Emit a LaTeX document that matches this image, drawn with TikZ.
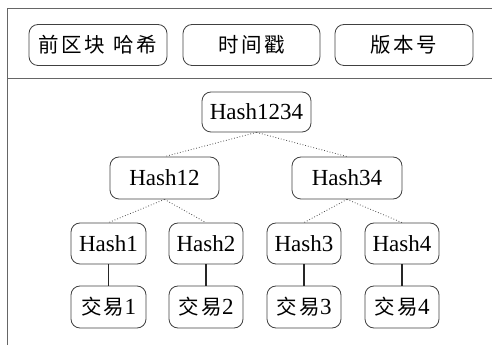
\documentclass[tikz,border=0pt]{standalone}
\usepackage{fontspec}
\setmainfont{Liberation Serif}
\newfontfamily\cjk{Noto Sans CJK SC}[Scale=1.0]
\begin{document}
\begin{tikzpicture}[x=1pt,y=1pt,
  box/.style={draw=black!75, line width=0.8pt, rounded corners=9pt, inner sep=0pt,
    font=\fontsize{23}{25}\selectfont},
  frame/.style={draw=black!60, line width=1pt},
  dotlink/.style={draw=black!70, dotted, line width=0.8pt},
  solidlink/.style={draw=black!85, line width=1.3pt}]
\useasboundingbox (0,0) rectangle (492,345);
% frame lines
\coordinate (ftl) at (7.5,336);
\coordinate (fbl) at (7.5,0);
\coordinate (ftr) at (492,336);
\coordinate (fml) at (7.5,266);
\coordinate (fmr) at (492,266);
\draw[frame] (fbl) -- (ftl) -- (ftr);
\draw[frame] (fml) -- (fmr);
% header boxes
\node[box, minimum width=138pt, minimum height=41pt] (prev) at (98,300)
  {\cjk\fontsize{20.5}{22}\selectfont 前\hspace{2.5pt}区\hspace{2.5pt}块\hspace{9pt}哈\hspace{2.5pt}希};
\node[box, minimum width=137pt, minimum height=41pt] (time) at (251.5,300)
  {\cjk\fontsize{20.5}{22}\selectfont 时\hspace{2.5pt}间\hspace{2.5pt}戳};
\node[box, minimum width=138pt, minimum height=41pt] (ver) at (404,300)
  {\cjk\fontsize{20.5}{22}\selectfont 版\hspace{2.5pt}本\hspace{2.5pt}号};
% tree
\node[box, minimum width=109pt, minimum height=40pt] (h1234) at (256.5,233) {Hash1234};
\node[box, minimum width=109pt, minimum height=42pt] (h12) at (164.5,167) {Hash12};
\node[box, minimum width=110pt, minimum height=42pt] (h34) at (347,167) {Hash34};
\node[box, minimum width=75pt, minimum height=41pt] (h1) at (108.5,101.5) {Hash1};
\node[box, minimum width=74pt, minimum height=41pt] (h2) at (206,101.5) {Hash2};
\node[box, minimum width=74pt, minimum height=41pt] (h3) at (304,101.5) {Hash3};
\node[box, minimum width=74pt, minimum height=41pt] (h4) at (402,101.5) {Hash4};
\node[box, minimum width=75pt, minimum height=42pt] (t1) at (108.5,38) {{\cjk\fontsize{20.5}{22}\selectfont 交\hspace{2.5pt}易}1};
\node[box, minimum width=74pt, minimum height=42pt] (t2) at (206,38) {{\cjk\fontsize{20.5}{22}\selectfont 交\hspace{2.5pt}易}2};
\node[box, minimum width=74pt, minimum height=42pt] (t3) at (304,38) {{\cjk\fontsize{20.5}{22}\selectfont 交\hspace{2.5pt}易}3};
\node[box, minimum width=74pt, minimum height=42pt] (t4) at (402,38) {{\cjk\fontsize{20.5}{22}\selectfont 交\hspace{2.5pt}易}4};
% links
\draw[dotlink] (h1234.south) -- (h12.north);
\draw[dotlink] (h1234.south) -- (h34.north);
\draw[dotlink] (h12.south) -- (h1.north);
\draw[dotlink] (h12.south) -- (h2.north);
\draw[dotlink] (h34.south) -- (h3.north);
\draw[dotlink] (h34.south) -- (h4.north);
\draw[solidlink] (h1) -- (t1);
\draw[solidlink] (h2) -- (t2);
\draw[solidlink] (h3) -- (t3);
\draw[solidlink] (h4) -- (t4);
\end{tikzpicture}
\end{document}
